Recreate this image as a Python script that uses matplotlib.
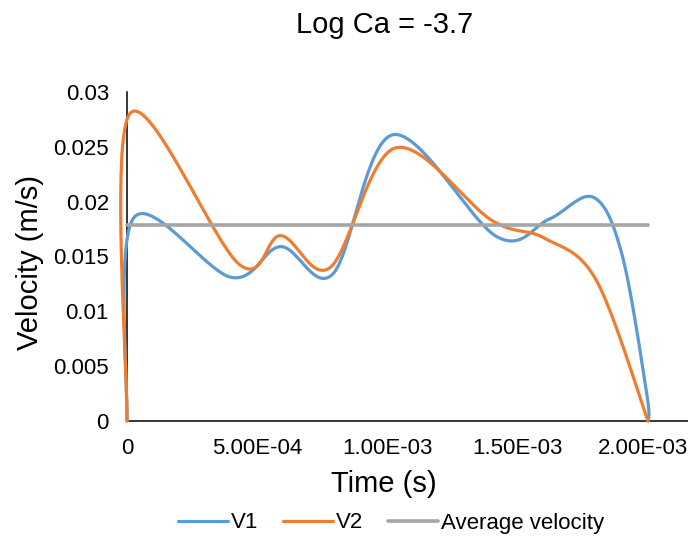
import numpy as np
import matplotlib
matplotlib.use("Agg")
import matplotlib.pyplot as plt
import matplotlib.transforms as mtransforms

plt.rcParams['font.family'] = ['Liberation Sans', 'DejaVu Sans']

# data (time in s, velocity in m/s)
t_v1 = [0, 2.5e-5, 4.0e-4, 5.9e-4, 7.9e-4, 1.02e-3, 1.42e-3, 1.62e-3, 1.79e-3, 1.9e-3, 1.995e-3, 2.0e-3]
v1 = [0, 0.0185, 0.0131, 0.0159, 0.0134, 0.0261, 0.0168, 0.0184, 0.0204, 0.0152, 0.0025, 0]

t_v2 = [0, 1.0e-5, 4.3e-4, 5.9e-4, 7.8e-4, 1.03e-3, 1.4e-3, 1.6e-3, 1.8e-3, 2.0e-3]
v2 = [0, 0.0280, 0.0143, 0.0169, 0.0140, 0.0249, 0.0183, 0.0167, 0.0129, 0]

t_avg = [0, 2.0e-3]
v_avg = [0.0179, 0.0179]

xticks = [0, 5e-4, 1e-3, 1.5e-3, 2e-3]
xticklabels = ['0', '5.00E-04', '1.00E-03', '1.50E-03', '2.00E-03']
yticks = [0, 0.005, 0.01, 0.015, 0.02, 0.025, 0.03]
yticklabels = ['0', '0.005', '0.01', '0.015', '0.02', '0.025', '0.03']

W, H = 688, 538
fig = plt.figure(figsize=(W / 100, H / 100), dpi=100)
# plot area in pixels
left, right, bottom, top = 112, 688, 421, 92
ax = fig.add_axes([left / W, (H - bottom) / H, (right - left) / W, (bottom - top) / H])

px_per_s = 260.5 / 1e-3
x0_px = 127
xmin = -(x0_px - left) / px_per_s
xmax = (right - x0_px) / px_per_s
ax.set_xlim(xmin, xmax)
ax.set_ylim(0, 0.03)
px_per_v = (bottom - top) / 0.03


def excel_smooth(xs, ys, n=40):
    # bezier smoothing like Excel's "smoothed line", done in pixel space
    P = np.column_stack([np.asarray(xs) * px_per_s, np.asarray(ys) * px_per_v])
    out = []
    for i in range(len(P) - 1):
        p0 = P[i - 1] if i > 0 else P[i]
        p1, p2 = P[i], P[i + 1]
        p3 = P[i + 2] if i + 2 < len(P) else P[i + 1]
        c1 = p1 + (p2 - p0) / 6
        c2 = p2 - (p3 - p1) / 6
        t = np.linspace(0, 1, n)[:, None]
        seg = (1 - t) ** 3 * p1 + 3 * (1 - t) ** 2 * t * c1 + 3 * (1 - t) * t ** 2 * c2 + t ** 3 * p2
        out.append(seg if i == 0 else seg[1:])
    out = np.vstack(out)
    return out[:, 0] / px_per_s, out[:, 1] / px_per_v


sx, sy = excel_smooth(t_v1, v1)
ax.plot(sx, sy, color='#5B9BD5', lw=2.3, solid_capstyle='round', clip_on=False, label='V1', zorder=3)
sx, sy = excel_smooth(t_v2, v2)
ax.plot(sx, sy, color='#ED7D31', lw=2.3, solid_capstyle='round', clip_on=False, label='V2', zorder=4)
ax.plot(t_avg, v_avg, color='#A5A5A5', lw=2.6, solid_capstyle='round', label='Average velocity', zorder=5)

for s in ['top', 'right']:
    ax.spines[s].set_visible(False)
ax.spines['left'].set_position(('data', 0))
ax.spines['bottom'].set_bounds(0, xmax)
for s in ['left', 'bottom']:
    ax.spines[s].set_color('black')
    ax.spines[s].set_linewidth(1.1)
    ax.spines[s].set_zorder(2)

ax.set_xticks(xticks)
ax.set_xticklabels(xticklabels)
ax.set_yticks(yticks)
ax.set_yticklabels(yticklabels)
ax.tick_params(axis='both', length=0, labelsize=16, colors='black')
ax.tick_params(axis='x', pad=12)
ax.tick_params(axis='y', pad=13)
# Excel keeps the last label inside the chart area
lab = ax.get_xticklabels()[-1]
lab.set_transform(lab.get_transform() + mtransforms.ScaledTranslation(-5 / 100, 0, fig.dpi_scale_trans))

fig.text(385 / W, 1 - 25 / H, 'Log Ca = -3.7', ha='center', va='center', fontsize=21)
fig.text(384 / W, 1 - 484 / H, 'Time (s)', ha='center', va='center', fontsize=21)
fig.text(30 / W, 1 - 262 / H, 'Velocity (m/s)', ha='center', va='center', rotation=90, fontsize=21)

ax.legend(loc='center', bbox_to_anchor=(391 / W, 1 - 523 / H), bbox_transform=fig.transFigure,
          ncol=3, frameon=False, fontsize=16, handlelength=2.25, handletextpad=0.15,
          columnspacing=1.1, borderaxespad=0)

fig.savefig('out.png', dpi=100)
